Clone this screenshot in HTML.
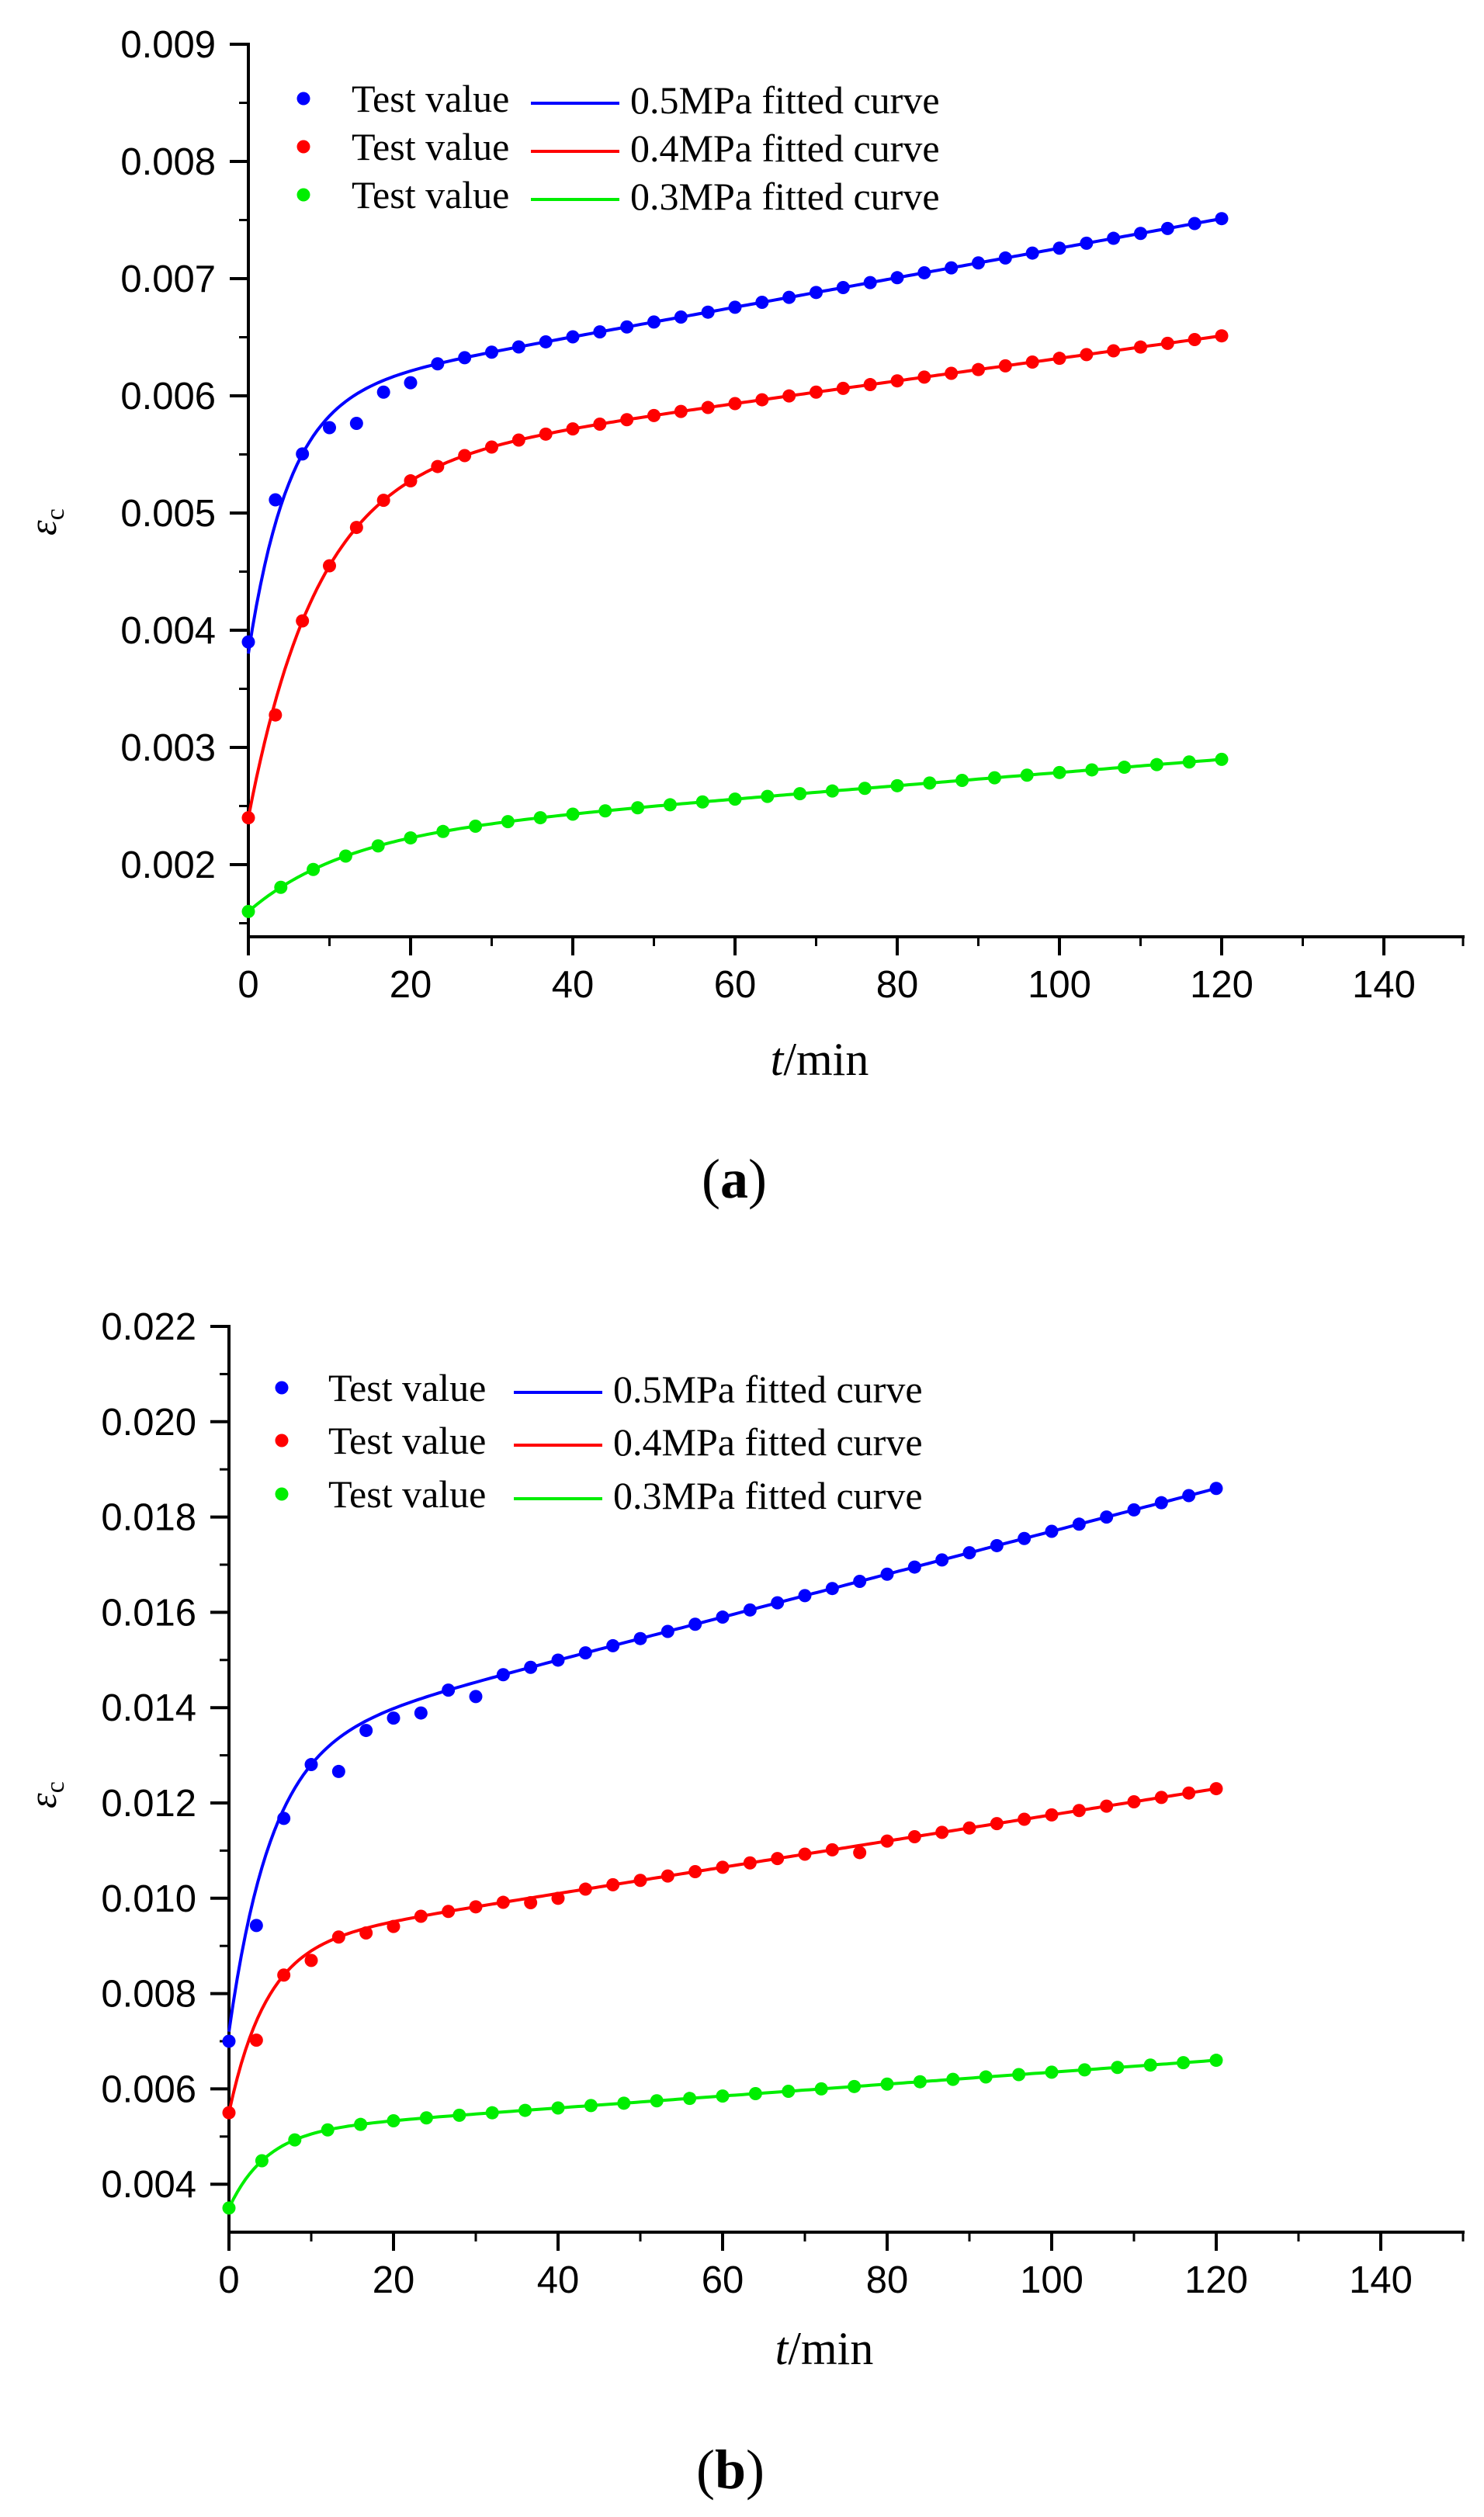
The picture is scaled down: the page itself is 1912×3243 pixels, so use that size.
<!DOCTYPE html>
<html><head><meta charset="utf-8">
<style>
html,body{margin:0;padding:0;background:#fff;}
svg{display:block;}
.tk{font-family:"Liberation Sans",Arial,sans-serif;font-size:49px;fill:#000;}
.lg{font-family:"Liberation Serif","Times New Roman",serif;font-size:50px;fill:#000;}
.ax{font-family:"Liberation Serif","Times New Roman",serif;font-size:60px;fill:#000;}
</style></head>
<body>
<svg id="s" width="1912" height="3243" viewBox="0 0 1912 3243" xmlns="http://www.w3.org/2000/svg">
<rect width="1912" height="3243" fill="#fff"/>
<g id="ga"></g>
<g id="gb"></g>
<text class="ax" x="1056" y="1385" text-anchor="middle"><tspan font-style="italic">t</tspan>/min</text>
<text x="946" y="1543" text-anchor="middle" font-family="Liberation Serif,serif" font-size="72">(<tspan font-weight="bold">a</tspan>)</text>
<text class="ax" x="1062" y="3046" text-anchor="middle"><tspan font-style="italic">t</tspan>/min</text>
<text x="941" y="3206" text-anchor="middle" font-family="Liberation Serif,serif" font-size="72">(<tspan font-weight="bold">b</tspan>)</text>
<text transform="translate(72,690) rotate(-90)" font-family="Liberation Serif,serif" font-size="50" font-style="italic">ε<tspan font-size="34" dy="10" font-style="normal">c</tspan></text>
<text transform="translate(72,2330) rotate(-90)" font-family="Liberation Serif,serif" font-size="50" font-style="italic">ε<tspan font-size="34" dy="10" font-style="normal">c</tspan></text>
</svg>
<script>
var NS="http://www.w3.org/2000/svg";
function el(g,n,a,t){var e=document.createElementNS(NS,n);for(var k in a)e.setAttribute(k,a[k]);if(t!==undefined)e.textContent=t;g.appendChild(e);return e;}
function chart(g,c){
  var X=function(t){return c.x0+t*c.xu;}, Y=function(v){return c.y0+(c.v0-v)/c.step*c.yu;};
  el(g,"line",{x1:c.x0,y1:c.yTop,x2:c.x0,y2:c.yAx+2,stroke:"#000","stroke-width":4});
  el(g,"line",{x1:c.x0-2,y1:c.yAx,x2:1887,y2:c.yAx,stroke:"#000","stroke-width":4});
  for(var i=0;i<c.ylab.length;i++){
    var v=c.v0-i*c.step, y=Y(v);
    el(g,"line",{x1:c.x0-24,y1:y,x2:c.x0,y2:y,stroke:"#000","stroke-width":4});
    el(g,"text",{"class":"tk",x:c.x0-42,y:y+17,"text-anchor":"end"},c.ylab[i]);
    var ym=Y(v-c.step/2);
    if(ym<c.yAx-4) el(g,"line",{x1:c.x0-12,y1:ym,x2:c.x0,y2:ym,stroke:"#000","stroke-width":3});
  }
  for(var t=0;t<=140;t+=10){
    var x=X(t), maj=(t%20==0);
    el(g,"line",{x1:x,y1:c.yAx,x2:x,y2:c.yAx+(maj?24:12),stroke:"#000","stroke-width":maj?4:3});
    if(maj) el(g,"text",{"class":"tk",x:x,y:c.yAx+78,"text-anchor":"middle"},String(t));
  }
  el(g,"line",{x1:1885,y1:c.yAx,x2:1885,y2:c.yAx+12,stroke:"#000","stroke-width":3});
  c.ser.forEach(function(s){
    var f=function(t){return s.A+s.B*(1-Math.exp(-t/s.tau))+s.C*t;};
    var d="";
    for(var t=0;t<=120;t+=0.5){d+=(t==0?"M":"L")+X(t).toFixed(1)+","+Y(f(t)).toFixed(1);}
    el(g,"path",{d:d,fill:"none",stroke:s.col,"stroke-width":4});
    var n=Math.round(120/s.dt);
    for(var k=0;k<=n;k++){
      var t=k*s.dt, v=f(t)+(s.dev&&s.dev[k]?s.dev[k]:0);
      el(g,"circle",{cx:X(t),cy:Y(v),r:8.5,fill:s.col});
    }
  });
  var names=["0.5MPa fitted curve","0.4MPa fitted curve","0.3MPa fitted curve"];
  for(var i=0;i<3;i++){
    var ly=c.leg.y[i];
    el(g,"circle",{cx:c.leg.dx,cy:ly,r:8.5,fill:c.ser[i].col});
    el(g,"text",{"class":"lg",x:c.leg.tx,y:ly+17},"Test value");
    el(g,"line",{x1:c.leg.l1,y1:ly+6,x2:c.leg.l2,y2:ly+6,stroke:c.ser[i].col,"stroke-width":4});
    el(g,"text",{"class":"lg",x:c.leg.l2+14,y:ly+19},names[i]);
  }
}
chart(document.getElementById("ga"),{
  x0:320,xu:10.45,y0:57,v0:0.009,step:0.001,yu:151,yTop:55,yAx:1207,
  ylab:["0.009","0.008","0.007","0.006","0.005","0.004","0.003","0.002"],
  leg:{dx:391,tx:453,l1:684,l2:798,y:[127,189,251]},
  ser:[
   {col:"#0000ff",A:0.0038,B:0.0022,tau:5,C:1.26e-5,dt:10/3,dev:{0:0.0001,1:0.0002,3:-0.0001,4:-0.00025,5:-0.0001,6:-0.0001}},
   {col:"#ff0000",A:0.0024,B:0.00296,tau:8.45,C:9.6e-6,dt:10/3,dev:{1:-0.00012}},
   {col:"#00ee00",A:0.0016,B:0.000626,tau:11.5,C:5.6e-6,dt:4}
  ]
});
chart(document.getElementById("gb"),{
  x0:295,xu:10.6,y0:1709,v0:0.022,step:0.002,yu:122.8,yTop:1707,yAx:2876,
  ylab:["0.022","0.020","0.018","0.016","0.014","0.012","0.010","0.008","0.006","0.004"],
  leg:{dx:363,tx:423,l1:662,l2:776,y:[1788,1856,1925]},
  ser:[
   {col:"#0000ff",A:0.0072,B:0.006,tau:5.1,C:4.5e-5,dt:10/3,dev:{0:-0.0002,1:-0.0008,2:-0.0002,4:-0.0007,5:-0.0002,6:-0.0002,7:-0.0003,9:-0.0003}},
   {col:"#ff0000",A:0.0055,B:0.0035,tau:4.5,C:2.75e-5,dt:10/3,dev:{1:-0.0004,3:-0.0002,5:-0.0001,6:-0.0001,11:-0.0001,12:-0.0001,23:-0.00015}},
   {col:"#00ee00",A:0.0035,B:0.0016,tau:4.5,C:1.25e-5,dt:4}
  ]
});
</script>
</body></html>
